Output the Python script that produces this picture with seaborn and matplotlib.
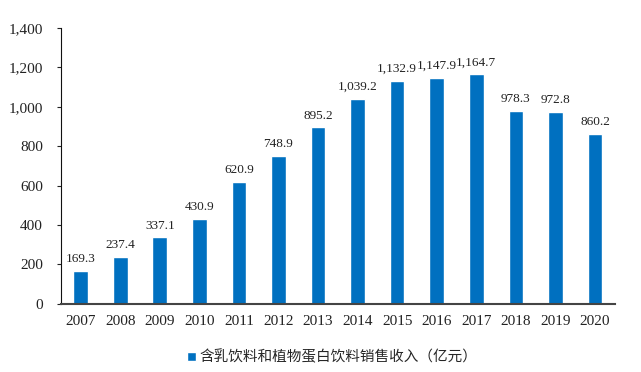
import matplotlib
matplotlib.use("Agg")
import matplotlib.pyplot as plt
import seaborn as sns
import pandas as pd
from matplotlib.ticker import FuncFormatter

years = ['2007', '2008', '2009', '2010', '2011', '2012', '2013',
         '2014', '2015', '2016', '2017', '2018', '2019', '2020']
revenue = [169.3, 237.4, 337.1, 430.9, 620.9, 748.9, 895.2,
           1039.2, 1132.9, 1147.9, 1164.7, 978.3, 972.8, 860.2]
label = '含乳饮料和植物蛋白饮料销售收入（亿元）'

sns.set_style("white")
plt.rcParams['font.family'] = ['Liberation Serif', 'Noto Sans CJK SC']

df = pd.DataFrame({'year': years, 'value': revenue})

fig = plt.figure(figsize=(6.41, 3.72), dpi=100)
ax = fig.add_axes([0.095, 0.183, 0.864, 0.742])
sns.barplot(data=df, x='year', y='value', color='#0070C0', width=0.37,
            saturation=1, ax=ax, label=label)

for i, v in enumerate(revenue):
    ax.text(i, v + 30, f'{v:,.1f}', ha='center', va='bottom',
            fontsize=9.5, color='#222222')

ax.set_ylim(0, 1400)
ax.set_yticks(range(0, 1401, 200))
ax.yaxis.set_major_formatter(FuncFormatter(lambda x, p: f'{int(x):,}'))
ax.set_xlabel('')
ax.set_ylabel('')
ax.tick_params(axis='y', labelsize=11, length=3, pad=10, direction='out', colors='#222222', left=True)
ax.tick_params(axis='x', labelsize=11, length=0, pad=8, colors='#222222')
sns.despine(ax=ax, top=True, right=True)
ax.spines['left'].set_color('#111111')
ax.spines['bottom'].set_color('#444444')
ax.spines['bottom'].set_linewidth(1.5)

leg = ax.legend(loc='upper center', bbox_to_anchor=(0.49, -0.12), frameon=False,
                prop={'family': ['Noto Sans CJK SC'], 'size': 10.5},
                handlelength=0.6, handleheight=0.6, handletextpad=0.3)

fig.savefig('out.png', dpi=100)
